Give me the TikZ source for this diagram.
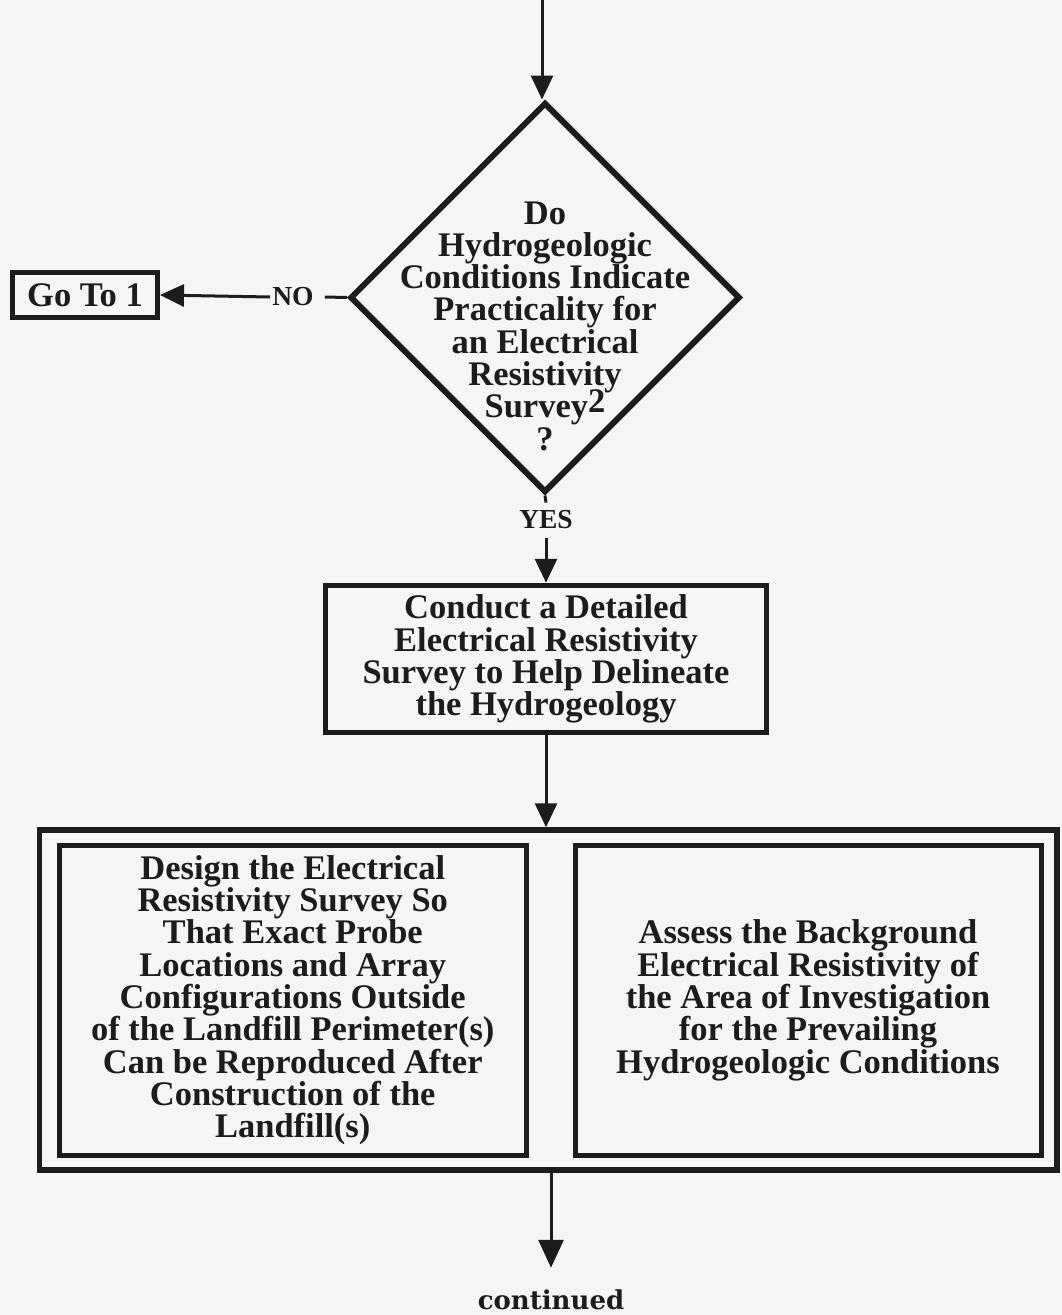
\documentclass[tikz,border=0pt]{standalone}
\usepackage{fontspec}
\setmainfont{Liberation Serif}
\newfontfamily\contfont{DejaVu Serif}
\usetikzlibrary{shapes.geometric,arrows.meta}
\definecolor{ink}{RGB}{28,28,28}
\definecolor{paper}{RGB}{244,246,246}
\lineskiplimit=-50pt

\begin{document}
\begin{tikzpicture}[x=1pt,y=-1pt,
  every node/.style={text=ink},
  body/.style={font=\bfseries\fontsize{34.5}{32.3}\selectfont, align=center},
  panel/.style={draw=ink, line width=5pt, rectangle, inner sep=0pt},
  decision/.style={draw=ink, line width=6pt, diamond, minimum width=390pt,
                   minimum height=390pt, inner sep=0pt},
  flow/.style={draw=ink, line width=3pt},
  tip/.style={-{Triangle[length=24pt,width=22pt]}},
  bigtip/.style={-{Triangle[length=28pt,width=25pt]}},
  tag/.style={font=\bfseries\fontsize{27.5}{27.5}\selectfont, inner sep=0pt},
]
% page
\fill[paper] (0,0) rectangle (1062,1315);
\useasboundingbox (0,0) rectangle (1062,1315);

% decision
\node[decision] (q) at (545,297.5) {};
\node[body] (qtext) at (545,326)
  {Do\\Hydrogeologic\\Conditions Indicate\\Practicality for\\an Electrical\\Resistivity\\Survey\raisebox{5pt}{2}\\?};

% exit to the left
\node[panel, body, minimum width=145pt, minimum height=45pt] (goto) at (85,295) {Go To 1};
\node[tag] (no) at (293,297) {NO};

% survey step
\node[tag] (yes) at (546,520) {YES};
\node[panel, body, minimum width=440.5pt, minimum height=147.5pt] (survey) at (546,659)
  {Conduct a Detailed\\Electrical Resistivity\\Survey to Help Delineate\\the Hydrogeology};

% parallel tasks
\node[draw=ink, line width=5.5pt, rectangle, inner sep=0pt,
      minimum width=1017.5pt, minimum height=340pt] (frame) at (548.25,1000) {};
\node[panel, body, minimum width=466.5pt, minimum height=309.5pt] (design) at (292.75,1000.25)
  {Design the Electrical\\Resistivity Survey So\\That Exact Probe\\Locations and Array\\Configurations Outside\\of the Landfill Perimeter(s)\\Can be Reproduced After\\Construction of the\\Landfill(s)};
\node[panel, body, minimum width=466pt, minimum height=309.5pt] (assess) at (808,1000.25)
  {Assess the Background\\Electrical Resistivity of\\the Area of Investigation\\for the Prevailing\\Hydrogeologic Conditions};

\node[font=\contfont\bfseries\fontsize{26}{26}\selectfont, inner sep=0pt] (cont) at (551,1300) {continued};

% connectors
\coordinate (entry) at (542,0);
\draw[flow, tip] (entry) -- (entry |- q.north);
\draw[flow] (q.west) -- ([xshift=11pt]no.east);
\draw[flow, tip] ([xshift=-2pt]no.west) -- (goto.east);
\draw[flow] (q.south) -- ([yshift=8pt]yes.north);
\draw[flow, tip] ([yshift=-9pt]yes.south) -- (survey.north);
\draw[flow, tip] (survey.south) -- (survey.south |- frame.north);
\draw[flow, bigtip] (frame.south -| cont.north) -- ([yshift=22pt]cont.north);
\end{tikzpicture}
\end{document}
